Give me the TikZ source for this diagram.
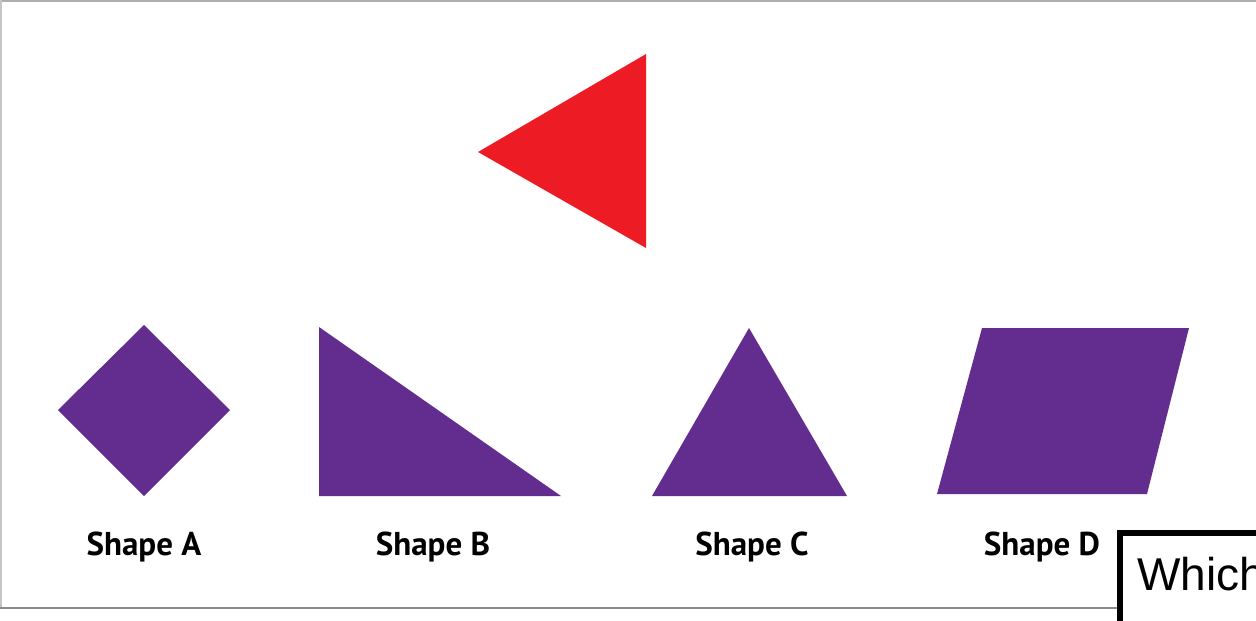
\documentclass[tikz,border=0pt]{standalone}
\usepackage{fontspec}
\setmainfont{PT Sans}
\newfontfamily\boxfont{Liberation Sans}
\definecolor{target}{HTML}{ED1C24}
\definecolor{choice}{HTML}{632D90}
\definecolor{frame}{HTML}{8A8A8A}
\tikzset{
  shapefill/.style={fill=choice,draw=none},
  shapelabel/.style={font=\fontsize{33}{36}\selectfont\bfseries,text=black,anchor=base,inner sep=0pt},
}
\begin{document}
\begin{tikzpicture}[x=1pt,y=-1pt]
\useasboundingbox (0,0) rectangle (1256,621);
\clip (0,0) rectangle (1256,621);

% frame
\draw[frame!70,line width=1.5pt] (0,1) -- (1256,1);
\draw[frame!50,line width=1.5pt] (1,0) -- (1,608);
\draw[frame,line width=2pt] (0,608) -- (1256,608);

% target triangle
\fill[target] (478,152) -- (646,54) -- (646,248) -- cycle;

% choices
\fill[shapefill] (144,325) -- (230,410) -- (144,496) -- (58,410) -- cycle;
\fill[shapefill] (319,327) -- (561,496) -- (319,496) -- cycle;
\fill[shapefill] (749,328) -- (847,496) -- (652,496) -- cycle;
\fill[shapefill] (982,328) -- (1189,328) -- (1147,494) -- (937,494) -- cycle;

% labels
\node[shapelabel] (labA) at (144,555) {Shape A};
\node[shapelabel] (labB) at (433,555) {Shape B};
\node[shapelabel] (labC) at (752,555) {Shape C};
\node[shapelabel] (labD) at (1042,555) {Shape D};

% question box
\draw[black,fill=white,line width=6.5pt] (1120,533) rectangle (1300,660);
\node[font=\boxfont\fontsize{46}{50}\selectfont,anchor=base west,inner sep=0pt] (question) at (1137,590) {Which};
\end{tikzpicture}
\end{document}
